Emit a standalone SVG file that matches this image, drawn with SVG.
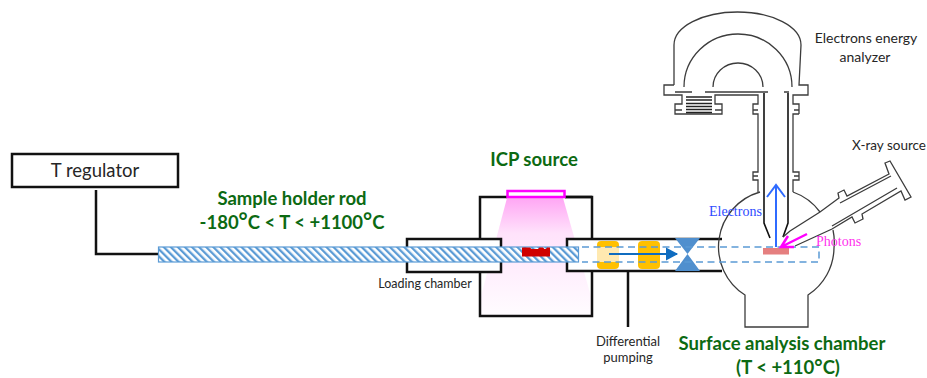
<svg xmlns="http://www.w3.org/2000/svg" width="927" height="378" viewBox="0 0 927 378">
<style>
.s{font-family:Lato,"Liberation Sans",sans-serif;fill:#262626}
.g{font-family:Lato,"Liberation Sans",sans-serif;font-weight:700;fill:#0c6a12;font-size:18.500px}
.t{font-family:"Liberation Serif",serif;font-size:14px}
.k{fill:none;stroke:#111;stroke-width:2.500}
.a{fill:none;stroke:#3c3c3c;stroke-width:1.300}
.b{fill:none;stroke:#111;stroke-width:1.600}
.d{fill:none;stroke:#5b9bd5;stroke-width:1.500;stroke-dasharray:7 4.500}
.o{font-size:22px}
</style>
<defs>
<pattern id="h" width="5" height="5" patternUnits="userSpaceOnUse" patternTransform="rotate(-45)">
<rect width="5" height="5" fill="#fff"/><rect width="2.300" height="5" fill="#5b9bd5"/>
</pattern>
<linearGradient id="p" x1="0" y1="0" x2="0" y2="1">
<stop offset="0" stop-color="#ffa6f4"/><stop offset=".3" stop-color="#ffe2fb"/><stop offset=".8" stop-color="#fff5fe"/><stop offset="1" stop-color="#fffcff"/>
</linearGradient>
<marker id="m1" markerWidth="6" markerHeight="6" refX="5" refY="3" orient="auto"><path d="M0 0L5.500 3L0 6z" fill="#0f6cc0"/></marker>
</defs>
<g id="icp-source">
<path d="M507 198H563L592 300V315H480V300z" fill="url(#p)"/>
<path class="k" d="M501 197H480V316H592V197H565"/>
<path d="M501 197H507M565 197H592" class="k"/>
<rect x="507.500" y="191" width="57" height="6" fill="#fff" stroke="#f0f" stroke-width="2.500"/>
</g>
<g id="loading-chamber">
<rect x="407" y="239" width="94" height="33" fill="#fff" stroke="#111" stroke-width="2.500"/>
</g>
<g id="differential-chamber">
<path d="M722 239H567V271H722" fill="#fff" stroke="#111" stroke-width="2.500"/>
<rect x="597" y="241" width="22" height="28" rx="4" fill="#ffc000"/>
<rect x="597" y="247" width="22" height="15" fill="#ffe9b0"/>
<rect x="638" y="241" width="22" height="28" rx="4" fill="#ffc000"/>
<path d="M675 238H700L687.500 254L700 271H675L687.500 254z" fill="#4f8fce"/>
</g>
<g id="analysis-chamber">
<path class="a" d="M760 192A57 57 0 0 0 745 295V327H808V295A57 57 0 0 0 834 248A57 57 0 0 0 833 230M820 212A57 57 0 0 0 793 192"/>
<rect x="763" y="248" width="26" height="6.500" fill="#e57f7f"/>
</g>
<g id="analyzer">
<path class="a" d="M674 85V45A63.500 33 0 0 1 801 45L799 85H808V95H793V104H799V107M799 114V104M799 114H793V172H799V180H793L793 192"/>
<path class="a" d="M674 85H664V95H682V104H675V114H722V104H715V95H758V104H753V114H758V172H753V180H758V192"/>
<path class="a" d="M675 110H682M715 110H722M753 110H758M794 110H799M753 176H758M794 176H799"/>
<path class="a" d="M684 87A54 53 0 0 1 792 87M713 87A25 24 0 0 1 763 87"/>
<path class="a" d="M675 92H692M705 92H768M784 92H789"/>
<path d="M686 97H712M686 100H712M686 103.500H712M686 106.500H712M686 109.500H712M686 112.500H712" fill="none" stroke="#222" stroke-width="1.500"/>
<path class="b" d="M764 93V223L770 238M788 93V223L783 237"/>
</g>
<g id="xray-source">
<path class="a" d="M783 237L790 231L820 212L839 198L838 193L844 190L847 196L889 174L885 163L890 161L911 197L905 200L901 191L862 214L863 219L855 223L852 217L832 229L795 246"/>
<path class="a" d="M840 203L891 176M832 226L897 188"/>
</g>
<g id="t-regulator">
<rect x="12" y="154" width="166" height="33" fill="#fff" stroke="#111" stroke-width="2.500"/>
<text class="s" x="95" y="177" font-size="18.500" text-anchor="middle">T regulator</text>
</g>
<g id="connectors">
<path class="k" d="M96 190V254H158"/>
<path class="k" d="M628 271V327"/>
<path class="d" d="M582 247H819V262H582"/>
<path d="M609 254H677" fill="none" stroke="#0f6cc0" stroke-width="2.200" marker-end="url(#m1)"/>
<path d="M776 247V186M767 197L776 185L785 197" fill="none" stroke="#2f6bff" stroke-width="2"/>
<path d="M807 234L781 247M788 236L781 247L794 247" fill="none" stroke="#f0f" stroke-width="2.500"/>
</g>
<g id="rod">
<rect x="158.500" y="247" width="420" height="15" fill="url(#h)" stroke="#5b9bd5" stroke-width="1.200"/>
<path d="M522 247.500H530L531.500 249H538L539.500 247.500H543L544.500 249H546L547 247.500H550V256.500H522z" fill="#d00000"/>
</g>
<g id="labels">
<text class="g" x="534" y="166" text-anchor="middle">ICP source</text>
<text class="g" x="292" y="205" text-anchor="middle">Sample holder rod</text>
<text class="g" x="292" y="229" text-anchor="middle">-180<tspan class="o">°</tspan>C &lt; T &lt; +1100<tspan class="o">°</tspan>C</text>
<text class="s" x="425" y="288" font-size="12.500" text-anchor="middle">Loading chamber</text>
<text class="s" x="628" y="346" font-size="13" text-anchor="middle">Differential</text>
<text class="s" x="628" y="362" font-size="13" text-anchor="middle">pumping</text>
<text class="g" x="782" y="350" text-anchor="middle">Surface analysis chamber</text>
<text class="g" x="788" y="374" text-anchor="middle" font-size="18">(T &lt; +110<tspan font-size="20">°</tspan>C)</text>
<text class="s" x="866" y="43" font-size="14" text-anchor="middle">Electrons energy</text>
<text class="s" x="865" y="62" font-size="14" text-anchor="middle">analyzer</text>
<text class="s" x="889" y="150" font-size="13.500" text-anchor="middle">X-ray source</text>
<text class="t" x="709" y="216" fill="#2f4bff">Electrons</text>
<text class="t" x="816" y="246" fill="#ff33ee">Photons</text>
</g>
</svg>
